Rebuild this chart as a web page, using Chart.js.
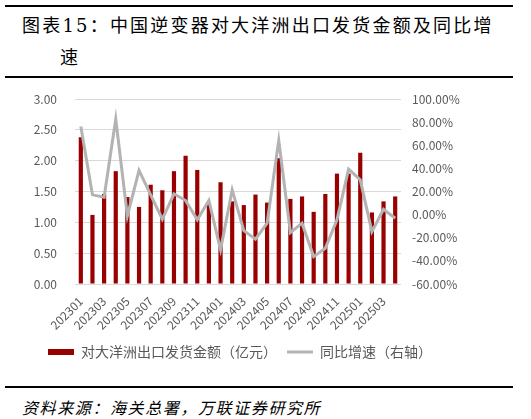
<!DOCTYPE html>
<html>
<head>
<meta charset="utf-8">
<script src="https://cdn.jsdelivr.net/npm/chart.js@4"></script>
<style>
  body { margin: 0; background: #fff; width: 531px; height: 419px; position: relative; overflow: hidden; font-family: "Noto Sans CJK SC", sans-serif; }
  .rule { position: absolute; left: 5px; width: 508px; height: 2px; background: #000; }
  .title { position: absolute; left: 22px; font-family: "DejaVu Serif", "Noto Sans CJK SC", serif; font-size: 18px; letter-spacing: 2.2px; color: #000; line-height: 20px; white-space: nowrap; }
  .source { position: absolute; left: 22px; top: 395px; font-size: 16px; font-style: italic; letter-spacing: 1.6px; color: #000; white-space: nowrap; }
  #wrap { position: absolute; left: 0; top: 85px; width: 480px; height: 290px; }
</style>
</head>
<body>
<div class="rule" style="top:5px"></div>
<div class="title" style="top:16px">图表15：中国逆变器对大洋洲出口发货金额及同比增</div>
<div class="title" style="top:48px; left:60px">速</div>
<div class="rule" style="top:76px"></div>
<div id="wrap"><canvas id="theChart"></canvas></div>
<div class="rule" style="top:386px"></div>
<div class="source">资料来源：海关总署，万联证券研究所</div>
<script>
'use strict';

let months = ['202301', '202302', '202303', '202304', '202305', '202306', '202307', '202308', '202309', '202310', '202311', '202312',
  '202401', '202402', '202403', '202404', '202405', '202406', '202407', '202408', '202409', '202410', '202411', '202412',
  '202501', '202502', '202503', '202504'];

// 亿元
let exportValue = [2.38, 1.12, 1.46, 1.83, 1.41, 1.25, 1.61, 1.52, 1.83, 2.08, 1.85, 1.30,
  1.65, 1.34, 1.28, 1.45, 1.32, 2.04, 1.38, 1.42, 1.17, 1.46, 1.79, 1.79,
  2.13, 1.16, 1.34, 1.42];

// %
let yoyGrowth = [76.3, 17.1, 15.1, 82.7, -1.1, 38.2, 17.1, -4.0, 18.0, 12.2, -4.5, 12.2,
  -30.5, 21.4, -13.8, -21.3, -7.4, 64.2, -15.5, -7.4, -36.3, -29.1, -4.5, 39.4,
  30.1, -14.7, 4.7, -3.1];

let leftTicks = [0, 0.5, 1, 1.5, 2, 2.5, 3];
let rightTicks = [-60, -40, -20, 0, 20, 40, 60, 80, 100];

let tickColor = '#595959';
let tickFont = { family: '"Noto Sans CJK SC", sans-serif', size: 12 };

function chartRender() {
    let ctx = document.getElementById('theChart').getContext('2d');
    let theChart = new Chart(ctx, {
        type: 'bar',
        data: {
            labels: months,
            datasets: [{
                type: 'bar',
                label: '对大洋洲出口发货金额（亿元）',
                data: exportValue,
                backgroundColor: '#990000',
                borderWidth: 0,
                barPercentage: 0.36,
                categoryPercentage: 1,
                pointStyle: 'rect',
                yAxisID: 'y',
                order: 2
            }, {
                type: 'line',
                label: '同比增速（右轴）',
                data: yoyGrowth,
                borderColor: '#b3b3b3',
                backgroundColor: '#b3b3b3',
                borderWidth: 3,
                pointRadius: 0,
                pointStyle: 'line',
                tension: 0,
                yAxisID: 'y1',
                order: 1
            }]
        },
        options: {
            responsive: true,
            maintainAspectRatio: false,
            animation: false,
            layout: { padding: { top: 14, left: 0, right: 0, bottom: 6 } },
            plugins: {
                tooltip: { enabled: false },
                legend: {
                    position: 'bottom',
                    labels: {
                        usePointStyle: true,
                        pointStyleWidth: 26,
                        boxHeight: 6,
                        color: tickColor,
                        font: { family: '"Noto Sans CJK SC", sans-serif', size: 14 },
                        padding: 10,
                        sort: (a, b) => a.datasetIndex - b.datasetIndex
                    }
                }
            },
            scales: {
                x: {
                    grid: { display: false },
                    border: { display: false },
                    ticks: {
                        autoSkip: false,
                        maxRotation: 45,
                        minRotation: 45,
                        padding: 2,
                        color: tickColor,
                        font: tickFont,
                        callback: function (val, i) {
                            return i % 2 === 0 ? months[i] : '';
                        }
                    },
                    afterFit: function (scale) { scale.height = 51; }
                },
                y: {
                    position: 'left',
                    min: 0,
                    max: 3,
                    afterBuildTicks: function (scale) {
                        scale.ticks = leftTicks.map(v => ({ value: v }));
                    },
                    grid: { color: '#d9d9d9', tickColor: 'transparent', tickLength: 18 },
                    border: { display: false },
                    ticks: {
                        padding: 0,
                        color: tickColor,
                        font: tickFont,
                        callback: v => v.toFixed(2)
                    },
                    afterFit: function (scale) { scale.width = 75; }
                },
                y1: {
                    position: 'right',
                    min: -60,
                    max: 100,
                    afterBuildTicks: function (scale) {
                        scale.ticks = rightTicks.map(v => ({ value: v }));
                    },
                    grid: { drawOnChartArea: false, color: 'transparent', tickLength: 11 },
                    border: { display: false },
                    ticks: {
                        padding: 0,
                        color: tickColor,
                        font: tickFont,
                        callback: v => v.toFixed(2) + '%'
                    },
                    afterFit: function (scale) { scale.width = 79; }
                }
            }
        }
    });
}
chartRender();
</script>
</body>
</html>
